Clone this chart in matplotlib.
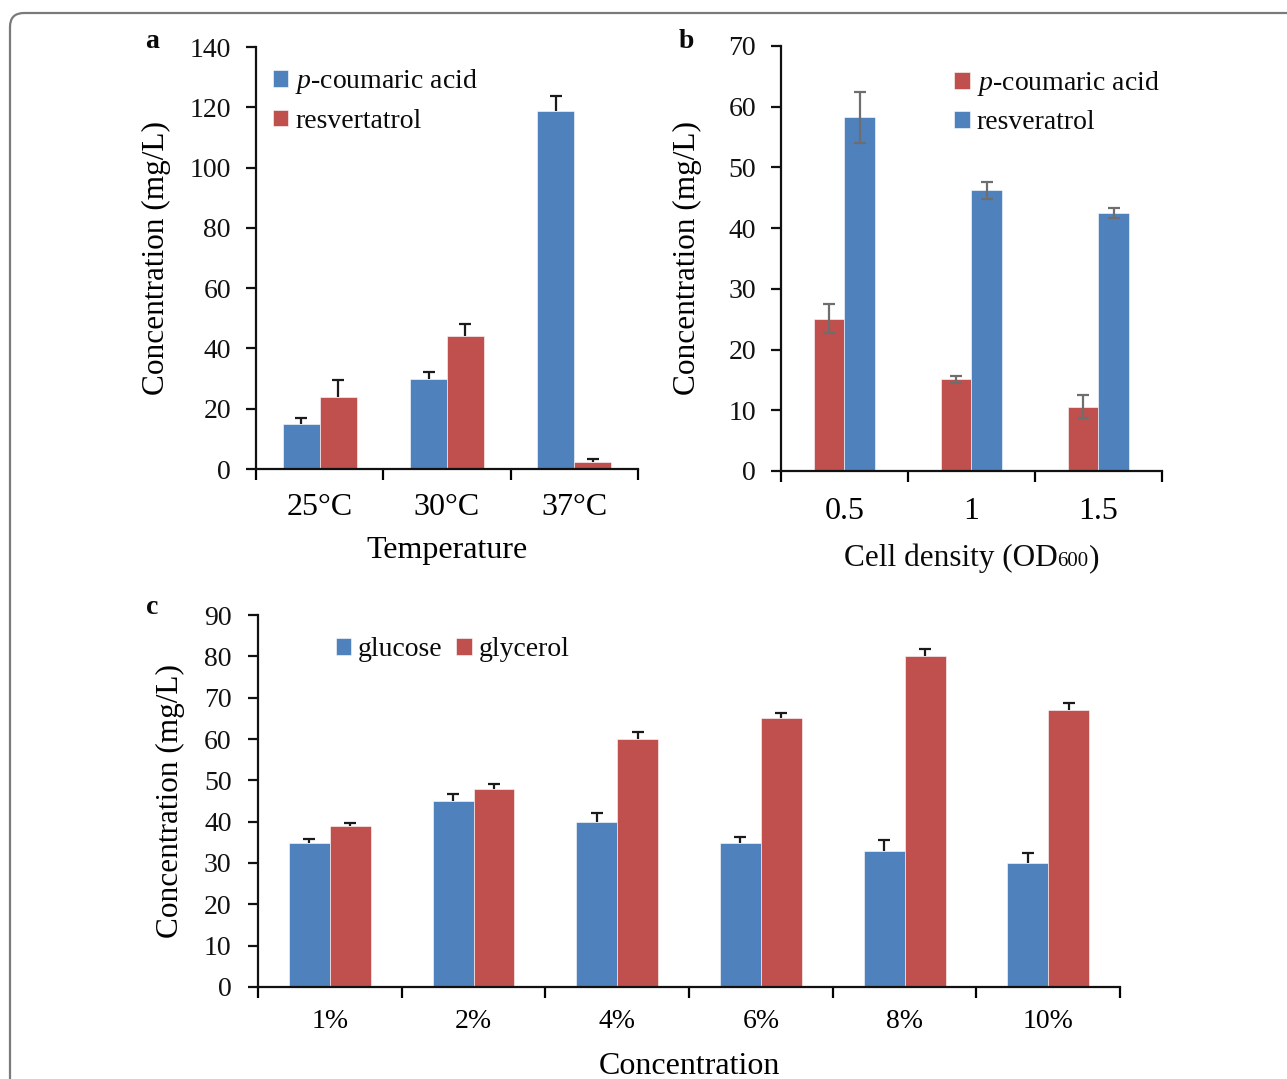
import numpy as np
import matplotlib
matplotlib.use("Agg")
import matplotlib.pyplot as plt
from matplotlib.patches import FancyBboxPatch
from matplotlib.transforms import IdentityTransform
from matplotlib.offsetbox import TextArea, HPacker, AnchoredOffsetbox

# panel a: temperature
temp_labels = ['25°C', '30°C', '37°C']
temp_coumaric = [15.0, 30.0, 118.7]
temp_coumaric_err = [2.0, 2.2, 4.9]
temp_resv = [24.0, 44.2, 2.5]
temp_resv_err = [5.5, 4.0, 0.9]

# panel b: cell density
od_labels = ['0.5', '1', '1.5']
od_coumaric = [25.1, 15.1, 10.6]
od_coumaric_err = [2.4, 0.6, 1.9]
od_resv = [58.3, 46.2, 42.5]
od_resv_err = [4.2, 1.4, 0.8]

# panel c: carbon source concentration
conc_labels = ['1%', '2%', '4%', '6%', '8%', '10%']
glucose = [34.9, 44.9, 39.9, 34.9, 32.9, 30.0]
glucose_err = [0.8, 1.7, 2.2, 1.4, 2.7, 2.3]
glycerol = [38.9, 47.8, 59.9, 65.0, 80.0, 67.0]
glycerol_err = [0.8, 1.4, 1.7, 1.4, 1.9, 1.7]

BLUE = '#4F81BD'
RED = '#C0504D'
FONT = 'Liberation Serif'

plt.rcParams['font.family'] = [FONT, 'DejaVu Serif']
plt.rcParams['mathtext.fontset'] = 'custom'
plt.rcParams['mathtext.rm'] = FONT
plt.rcParams['mathtext.it'] = FONT + ':italic'
plt.rcParams['text.color'] = '#0a0a0a'

fig = plt.figure(figsize=(12.87, 10.79), dpi=100)

# rounded frame around the figure (cut at right and bottom)
frame = FancyBboxPatch((10, -40), 1400, 1079 - 13 + 40,
                       boxstyle='round,pad=0,rounding_size=14',
                       transform=IdentityTransform(), facecolor='none',
                       edgecolor='#7a7a7a', linewidth=1.6)
fig.add_artist(frame)


def style_axes(ax, n, ylim, step, tick_fs, xt_fs, xpad, ypad):
    for s in ['top', 'right']:
        ax.spines[s].set_visible(False)
    for s in ['left', 'bottom']:
        ax.spines[s].set_linewidth(1.6)
        ax.spines[s].set_color('#111111')
    ax.set_xlim(-0.5, n - 0.5)
    ax.set_ylim(0, ylim)
    ax.set_yticks(np.arange(0, ylim + 1, step))
    ax.tick_params(axis='y', direction='out', length=7, width=1.6,
                   labelsize=tick_fs, pad=ypad, colors='#111111')
    ax.set_xticks(np.arange(-0.5, n, 1.0))
    ax.set_xticklabels([])
    ax.tick_params(axis='x', which='major', direction='out', length=8, width=1.6)
    ax.set_xticks(np.arange(n), minor=True)
    ax.tick_params(axis='x', which='minor', length=0, labelsize=xt_fs, pad=xpad)


def bars(ax, v1, e1, c1, v2, e2, c2, w, ecol, both):
    x = np.arange(len(v1))
    b1 = ax.bar(x - w / 2, v1, w, color=c1, edgecolor='#ffffff', linewidth=0.4, zorder=2)
    b2 = ax.bar(x + w / 2, v2, w, color=c2, edgecolor='#ffffff', linewidth=0.4, zorder=2)
    for xs, v, e in [(x - w / 2, v1, e1), (x + w / 2, v2, e2)]:
        v = np.asarray(v)
        e = np.asarray(e)
        if both:
            ax.errorbar(xs, v, yerr=e, fmt='none', ecolor=ecol,
                        elinewidth=1.6, capsize=4.5, capthick=1.6, zorder=3)
        else:
            # upper error only, cap on top only
            ax.errorbar(xs, v, yerr=[np.zeros(len(e)), e], fmt='none',
                        ecolor=ecol, elinewidth=1.6, capsize=0, zorder=3)
            ax.plot(xs, v + e, linestyle='none', marker='_', markersize=9,
                    markeredgewidth=1.6, color=ecol, zorder=3)
    return b1, b2


leg_kw = dict(loc='upper left', frameon=False, fontsize=20,
              handlelength=0.55, handleheight=0.55, handletextpad=0.25,
              borderpad=0, borderaxespad=0)

# ---- panel a
ax1 = fig.add_axes([0.1989, 0.5653, 0.2968, 0.3911])
h = bars(ax1, temp_coumaric, temp_coumaric_err, BLUE, temp_resv, temp_resv_err, RED,
         0.29, '#1a1a1a', False)
style_axes(ax1, 3, 140, 20, 20, 23, 17, 11)
ax1.set_xticklabels(temp_labels, minor=True)
ax1.set_xlabel('Temperature', fontsize=23, labelpad=10)
ax1.set_ylabel('Concentration (mg/L)', fontsize=22.5, labelpad=13)
ax1.legend(h, ['$\\it{p}$-coumaric acid', 'resvertatrol'],
           bbox_to_anchor=(0.045, 0.952), labelspacing=0.45, **leg_kw)

# ---- panel b
ax2 = fig.add_axes([0.6068, 0.5635, 0.2960, 0.3939])
h = bars(ax2, od_coumaric, od_coumaric_err, RED, od_resv, od_resv_err, BLUE,
         0.24, '#6e6e6e', True)
style_axes(ax2, 3, 70, 10, 20, 23, 19, 11)
ax2.set_xticklabels(od_labels, minor=True)
ax2.set_ylabel('Concentration (mg/L)', fontsize=22.5, labelpad=19)
ax2.legend(h, ['$\\it{p}$-coumaric acid', 'resveratrol'],
           bbox_to_anchor=(0.455, 0.945), labelspacing=0.42, **leg_kw)
xlab = HPacker(children=[TextArea('Cell density (OD', textprops=dict(fontsize=22.5, family=FONT)),
                         TextArea('600', textprops=dict(fontsize=15, family=FONT)),
                         TextArea(')', textprops=dict(fontsize=22.5, family=FONT))],
               align='baseline', pad=0, sep=0)
anch = AnchoredOffsetbox(loc='center', child=xlab, frameon=False, pad=0, borderpad=0,
                         bbox_to_anchor=(0.5, -0.205), bbox_transform=ax2.transAxes)
ax2.add_artist(anch)

# ---- panel c
ax3 = fig.add_axes([0.2005, 0.0853, 0.6698, 0.3447])
h = bars(ax3, glucose, glucose_err, BLUE, glycerol, glycerol_err, RED,
         0.285, '#1a1a1a', False)
style_axes(ax3, 6, 90, 10, 20, 20, 16, 12)
ax3.set_xticklabels(conc_labels, minor=True)
ax3.set_xlabel('Concentration', fontsize=23, labelpad=13)
ax3.set_ylabel('Concentration (mg/L)', fontsize=22.5, labelpad=14)
ax3.legend(h, ['glucose', 'glycerol'], ncol=2, bbox_to_anchor=(0.09, 0.94),
           columnspacing=0.5, **leg_kw)

# panel letters
for lab, x, y in [('a', 152, 42), ('b', 686, 42), ('c', 152, 607)]:
    fig.text(x / 1287, 1 - y / 1079, lab, fontsize=20, fontweight='bold',
             ha='center', va='center')

fig.savefig('out.png', dpi=100)
